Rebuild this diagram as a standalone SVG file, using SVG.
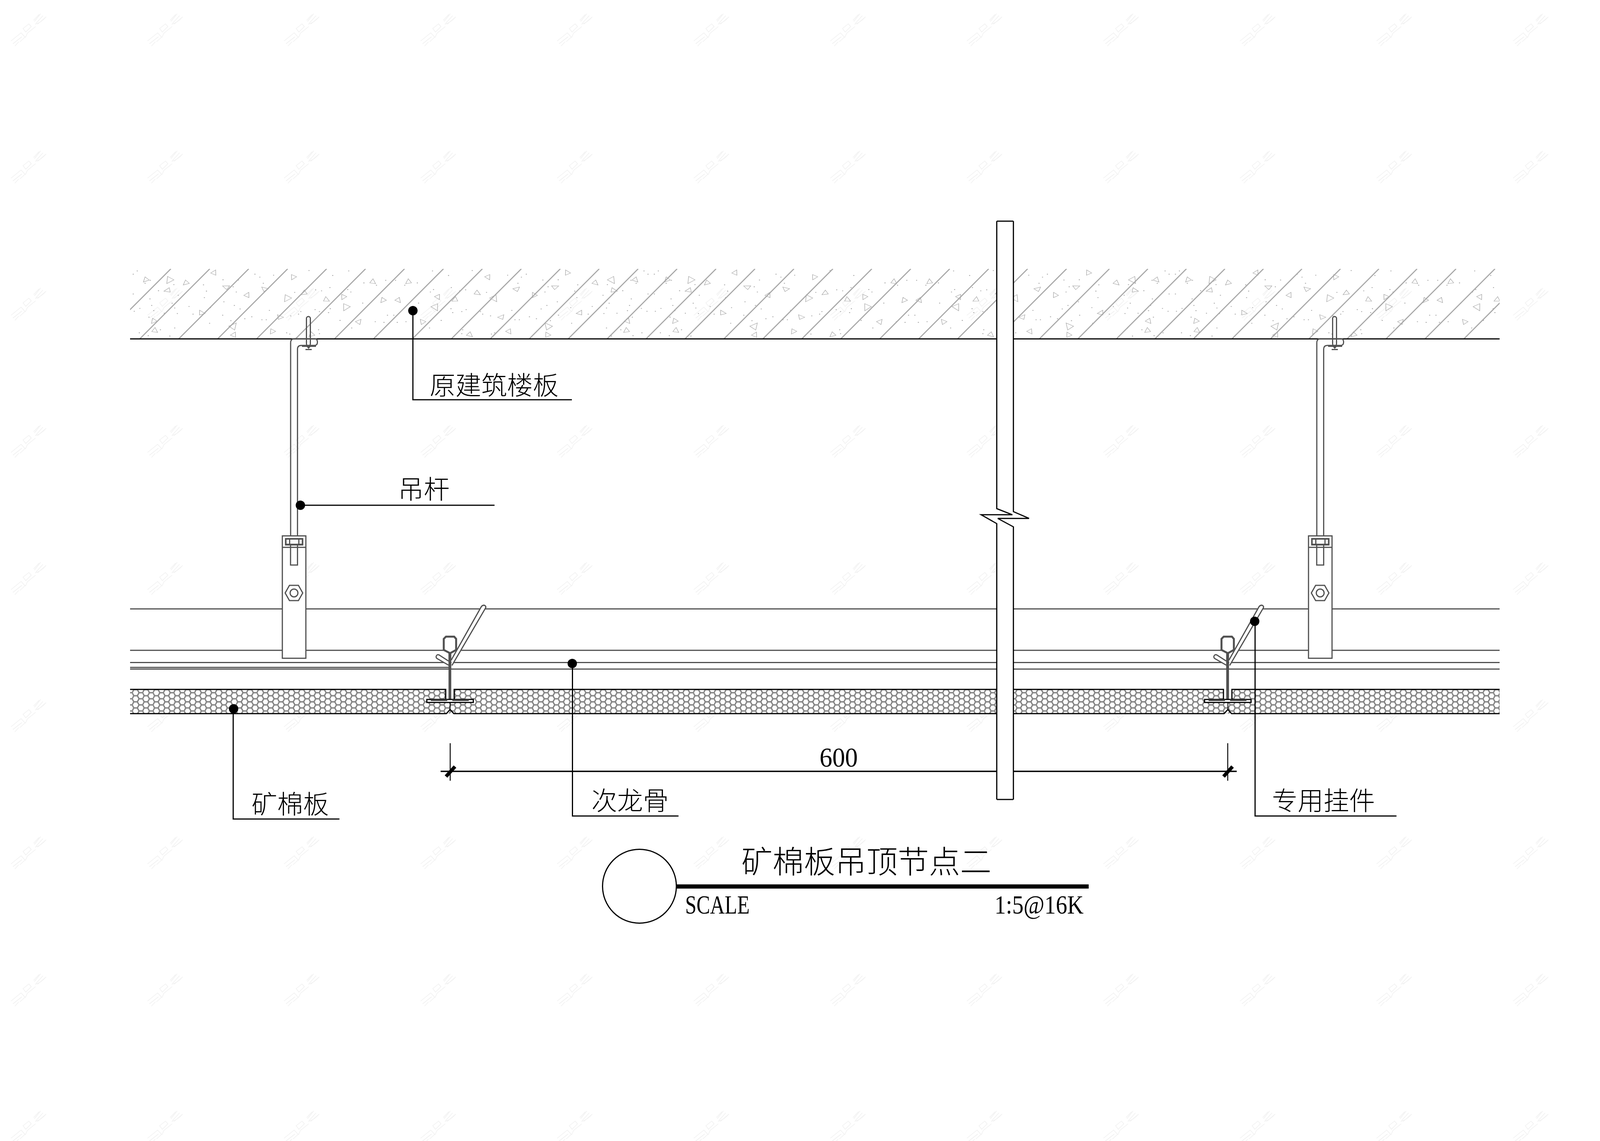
<svg xmlns="http://www.w3.org/2000/svg" xmlns:xlink="http://www.w3.org/1999/xlink" width="4128" height="2920" viewBox="0 0 4128 2920">
<style>
.g{fill:none;stroke:#505050;stroke-width:3}
.gw{fill:#fff;stroke:#505050;stroke-width:3}
.k{fill:none;stroke:#000;stroke-width:3}
.w{fill:#fff;stroke:none}
.ld{fill:none;stroke:#000;stroke-width:3}
.dot{fill:#000}
.cn{font-family:"Noto Sans CJK SC","Noto Sans CJK JP",sans-serif;font-weight:300;fill:#000}
.lbl{font-size:66px}
.sr{font-family:"Liberation Serif",serif;fill:#000}
.tri{fill:none;stroke:#a8a8a8;stroke-width:3;vector-effect:non-scaling-stroke}
</style>
<defs>
<pattern id="hex" patternUnits="userSpaceOnUse" width="26.6" height="15.6" patternTransform="translate(19.05 2.1)">
<path d="M0 7.8L4.43 0H13.3L17.73 7.8L13.3 15.6H4.43ZM17.73 7.8H26.6" fill="none" stroke="#808080" stroke-width="3.4"/>
</pattern>
<pattern id="wm" patternUnits="userSpaceOnUse" width="349.6" height="351">
<path d="M28 105L54 84L64 95L51 107M33 112L56 94M38 118L48 107M59 73L74 61L80 68L66 82ZM91 68L70 85L65 96M88 55L104 35M92 60L110 40M96 62L118 43M86 52L100 37M90 62Q105 58 118 43" fill="none" stroke="#f0f0f0" stroke-width="1.6"/>
</pattern>
<path id="tri" d="M-14 -18L18 -6L-6 22Z"/>
<path id="trib" d="M-18 -24L24 -8L-8 30Z"/>
<g id="ctile" transform="translate(300 660) scale(.4464 .3333)">
<use href="#tri" class="tri" transform="translate(165 168) rotate(25)"/>
<use href="#trib" class="tri" transform="translate(300 170) rotate(15)"/>
<use href="#tri" class="tri" transform="translate(395 192) rotate(30)"/>
<use href="#tri" class="tri" transform="translate(290 250) rotate(60)"/>
<use href="#tri" class="tri" transform="translate(210 485) rotate(20)"/>
<use href="#tri" class="tri" transform="translate(215 557) rotate(170)"/>
<use href="#tri" class="tri" transform="translate(555 113) rotate(190)"/>
<use href="#tri" class="tri" transform="translate(625 225) rotate(100)"/>
<use href="#tri" class="tri" transform="translate(482 422) rotate(140)"/>
<use href="#tri" class="tri" transform="translate(745 285) rotate(190)"/>
<use href="#trib" class="tri" transform="translate(665 525) rotate(200)"/>
<use href="#tri" class="tri" transform="translate(668 590) rotate(190)"/>
<use href="#tri" class="tri" transform="translate(1010 148) rotate(10)"/>
<use href="#tri" class="tri" transform="translate(845 240) rotate(120)"/>
<use href="#trib" class="tri" transform="translate(975 310) rotate(15)"/>
<use href="#tri" class="tri" transform="translate(1072 270) rotate(40)"/>
<use href="#tri" class="tri" transform="translate(932 455) rotate(130)"/>
<use href="#tri" class="tri" transform="translate(890 565) rotate(15)"/>
<use href="#tri" class="tri" transform="translate(1115 590) rotate(30)"/>
<use href="#tri" class="tri" transform="translate(1198 320) rotate(160)"/>
<use href="#tri" class="tri" transform="translate(1298 300) rotate(10)"/>
<use href="#trib" class="tri" transform="translate(1312 378) rotate(10)"/>
<use href="#tri" class="tri" transform="translate(1465 183) rotate(170)"/>
<use href="#tri" class="tri" transform="translate(1385 490) rotate(200)"/>
<use href="#tri" class="tri" transform="translate(1525 325) rotate(20)"/>
<path d="M115 100h0M92 125h0M190 172h0M160 195h0M237 252h0M92 277h0M188 315h0M198 365h0M130 388h0M98 410h0M210 405h0M182 455h0M127 575h0M178 597h0M302 600h0M330 538h0M248 552h0M270 425h0M345 427h0M330 385h0M412 373h0M315 348h0M350 287h0M325 205h0M500 305h0M512 255h0M495 207h0M435 432h0M535 382h0M530 502h0M605 440h0M612 337h0M683 262h0M665 222h0M607 168h0M695 170h0M790 125h0M818 148h0M897 133h0M838 195h0M672 365h0M705 392h0M772 452h0M732 467h0M652 482h0M873 403h0M830 475h0M855 475h0M972 575h0M990 585h0M1018 265h0M1053 412h0M1040 432h0M995 445h0M1155 552h0M1160 582h0M1135 397h0M1212 420h0M1222 390h0M1160 412h0M1278 480h0M1236 135h0M1328 100h0M1100 97h0M1220 228h0M1322 243h0M1340 262h0M1172 253h0M1138 245h0M1415 192h0M1487 210h0M1540 172h0M1408 347h0M1480 490h0M1530 495h0M1550 440h0M1345 538h0" fill="none" stroke="#a8a8a8" stroke-width="7" stroke-linecap="round"/>
</g>
<clipPath id="cclip"><rect x="333" y="688" width="3506" height="179"/></clipPath>
<g id="hanger">
<path class="g" d="M744 1371V877Q744 868 752 867H806Q812 867 812.5 874V877Q812 884 805 884H771Q762 884 761.6 893V1371"/>
<rect class="g" x="784.5" y="810" width="10" height="75" rx="5"/>
<path d="M773 885.5H809" fill="none" stroke="#505050" stroke-width="4.5"/>
<path d="M785 887H795L790 893Z" fill="#505050"/>
<path d="M782 894.5H798" fill="none" stroke="#505050" stroke-width="3"/>
<rect class="gw" x="722.8" y="1371.4" width="60.2" height="313.2"/>
<path class="g" d="M722.8 1400.7H783"/>
<rect class="g" x="731.5" y="1379" width="43" height="15" style="stroke-width:4"/>
<path class="g" d="M741.5 1379V1394M765 1379V1394"/>
<path d="M731 1393.5H775" fill="none" stroke="#505050" stroke-width="4"/>
<path class="g" d="M743.8 1395V1446H761.6V1395"/>
<path class="g" d="M730 1517.5L741 1498H764L775 1517.5L764 1537H741Z"/>
<circle class="g" cx="752.7" cy="1517.5" r="10"/>
</g>
<g id="tee">
<path d="M1151.7 1671V1790" fill="none" stroke="#505050" stroke-width="7"/>
<path class="gw" style="stroke-width:5" d="M1136 1635L1141.7 1629.3H1162.7L1167.7 1635V1663.3L1152.3 1671.7L1136 1663.3Z"/>
<path d="M1143 1633.5H1161" fill="none" stroke="#fff" stroke-width="1"/>
<path class="gw" d="M1155 1689.5L1232.5 1552Q1237 1547 1242 1550Q1245 1553 1243 1556L1157 1703"/>
<path class="gw" d="M1148.3 1691.7L1124 1676Q1118 1674 1116.5 1680Q1116 1684 1120 1686L1148.3 1702.3"/>
<path d="M1151.7 1671V1712" fill="none" stroke="#505050" stroke-width="7"/>
<rect x="1092.7" y="1790" width="119" height="7.7" fill="#fff" stroke="#000" stroke-width="3"/>
<path d="M1103 1792H1145M1158 1792H1200" fill="none" stroke="#444" stroke-width="4"/>
<path d="M1152.3 1798V1815.7" fill="none" stroke="#000" stroke-width="2"/>
</g>
</defs>
<rect width="4128" height="2920" fill="#fff"/>
<rect id="watermark" width="4128" height="2920" fill="url(#wm)"/>
<g id="floor-slab">
<g clip-path="url(#cclip)">
<path d="M258.3 867l179-179M358 867l179-179M457.7 867l179-179M557.4 867l179-179M657.1 867l179-179M756.8 867l179-179M856.5 867l179-179M956.2 867l179-179M1055.9 867l179-179M1155.6 867l179-179M1255.3 867l179-179M1355 867l179-179M1454.7 867l179-179M1554.4 867l179-179M1654.1 867l179-179M1753.8 867l179-179M1853.5 867l179-179M1953.2 867l179-179M2052.9 867l179-179M2152.6 867l179-179M2252.3 867l179-179M2352 867l179-179M2451.7 867l179-179M2551.4 867l179-179M2661 867l179-179M2759.6 867l179-179M2858.2 867l179-179M2956.8 867l179-179M3055.4 867l179-179M3154 867l179-179M3252.6 867l179-179M3351 867l179-179M3448.7 867l179-179M3548.4 867l179-179M3648.1 867l179-179M3747.8 867l179-179" fill="none" stroke="#a8a8a8" stroke-width="2.8"/>
<use href="#ctile"/>
<use href="#ctile" transform="translate(2000 0) scale(-1 1)"/>
<use href="#ctile" transform="translate(1334 0)"/>
<use href="#ctile" transform="translate(3334 0) scale(-1 1)"/>
<use href="#ctile" transform="translate(2668 0)"/>
<use href="#ctile" transform="translate(4668 0) scale(-1 1)"/>
</g>
<path class="k" d="M333 867.3H3839"/>
</g>
<g id="profile-lines">
<path class="g" d="M333 1558.3H3839M333 1664.3H3839M333 1695.4H3839M333 1712.2H3839"/>
<path class="g" d="M333 1708H1148"/>
</g>
<g id="mineral-board">
<rect x="333" y="1764" width="3506" height="62" fill="url(#hex)"/>
<rect class="w" x="1141" y="1764" width="21.7" height="26"/>
<rect class="w" x="3132" y="1764" width="21.7" height="26"/>
<path class="k" d="M333 1764.3H1141V1790M1162.7 1790V1764.3H3132V1790M3153.7 1790V1764.3H3839"/>
<path class="k" d="M333 1826.2H1142.7L1152.3 1815.7L1161.7 1826.2H3133.7L3143.3 1815.7L3152.7 1826.2H3839"/>
</g>
<g id="hanger-left"><use href="#hanger"/></g>
<g id="hanger-right"><use href="#hanger" transform="translate(2627 0)"/></g>
<g id="tee-left"><use href="#tee"/></g>
<g id="tee-right"><use href="#tee" transform="translate(1991 0)"/></g>
<g id="connectors">
<path class="ld" d="M1057 795V1023H1464"/>
<circle class="dot" cx="1057" cy="795" r="12"/>
<path class="ld" d="M769 1293H1266"/>
<circle class="dot" cx="769" cy="1293" r="12"/>
<path class="ld" d="M597 1814V2096H869"/>
<circle class="dot" cx="598" cy="1814" r="12"/>
<path class="ld" d="M1465.5 1698V2088.3H1737"/>
<circle class="dot" cx="1465" cy="1698" r="12"/>
<path class="ld" d="M3213 1590V2088.3H3575"/>
<circle class="dot" cx="3212" cy="1590" r="12"/>
</g>
<g id="dimension">
<path d="M1128 1974H3166" fill="none" stroke="#000" stroke-width="3.6"/>
<path d="M1152.5 1902V1998M3143 1902V1998" fill="none" stroke="#000" stroke-width="2.4"/>
<path d="M1164.8 1961.7L1141.8 1987.3M3155.3 1961.7L3132.3 1987.3" fill="none" stroke="#000" stroke-width="9"/>
<text class="sr" x="2098" y="1962" font-size="70" textLength="98" lengthAdjust="spacingAndGlyphs">600</text>
</g>
<g id="break-column">
<rect class="w" x="2551.7" y="566" width="42.6" height="1480"/>
<path class="k" d="M2551.7 566V1301.7L2591.7 1317.3H2511.7L2551.7 1340V2046"/>
<path class="k" d="M2594.3 566V1309.3L2634.3 1326.7H2554.3L2594.3 1348.3V2046"/>
<path class="k" d="M2551.7 566H2594.3M2551.7 2046H2594.3"/>
</g>
<g id="labels">
<text class="cn lbl" x="1100" y="1010">原建筑楼板</text>
<text class="cn lbl" x="1019" y="1276">吊杆</text>
<text class="cn lbl" x="644" y="2082">矿棉板</text>
<text class="cn lbl" x="1514" y="2073">次龙骨</text>
<text class="cn lbl" x="3256" y="2073">专用挂件</text>
</g>
<g id="title-block">
<circle cx="1637" cy="2268" r="94.5" fill="none" stroke="#000" stroke-width="3"/>
<rect x="1731" y="2263.3" width="1056" height="10.7" fill="#000"/>
<text class="cn" x="1898" y="2234" font-size="80">矿棉板吊顶节点二</text>
<text class="sr" x="1754" y="2338" font-size="68" textLength="165" lengthAdjust="spacingAndGlyphs">SCALE</text>
<text class="sr" x="2546" y="2338" font-size="68" textLength="228" lengthAdjust="spacingAndGlyphs">1:5@16K</text>
</g>
</svg>
